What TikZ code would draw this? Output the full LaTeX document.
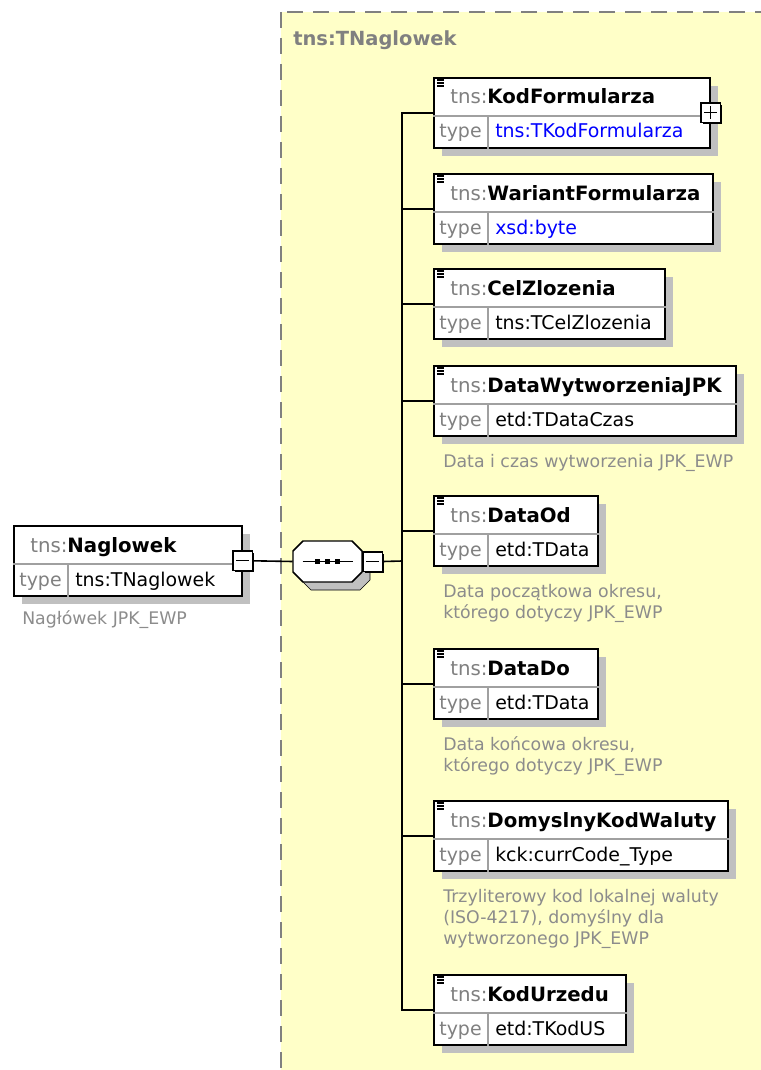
\documentclass[tikz,border=0pt]{standalone}
\usepackage{fontspec}
\setmainfont{DejaVu Sans}
\usepackage{xcolor}
\usetikzlibrary{positioning,calc,shadows}
\definecolor{typeyellow}{RGB}{255, 255, 200}
\definecolor{framegray}{RGB}{128, 128, 128}
\definecolor{prefixgray}{RGB}{128, 128, 128}
\definecolor{notegray}{RGB}{140, 140, 140}
\definecolor{rulegray}{RGB}{160, 160, 160}
\definecolor{linkblue}{RGB}{0, 0, 255}
\definecolor{shadowgray}{RGB}{192, 192, 192}
\tikzset{
    type frame/.style={draw=framegray, fill=typeyellow, line width=1.1pt, dash pattern=on 12pt off 7.5pt},
    frame label/.style={anchor=base west, inner sep=0pt, text=framegray, font=\fontsize{14.6}{17}\selectfont\bfseries},
    elem box/.style={rectangle, draw, line width=1.2pt, fill=white, inner sep=0pt, minimum height=52.5pt, anchor=north west,
        drop shadow={shadow xshift=6pt, shadow yshift=-6pt, fill=shadowgray, opacity=1}},
    elem rule/.style={draw=rulegray, line width=0.8pt},
    elem label/.style={anchor=base west, inner sep=0pt, font=\fontsize{14.8}{17}\selectfont},
    type key/.style={anchor=base, inner sep=0pt, text=prefixgray, font=\fontsize{14.2}{17}\selectfont},
    type value/.style={anchor=base west, inner sep=0pt, font=\fontsize{14.2}{17}\selectfont},
    elem note/.style={anchor=base west, inner sep=0pt, align=left, text=notegray, font=\fontsize{13}{15.75}\selectfont},
    icon line/.style={line width=0.8pt},
    conn/.style={line width=1.2pt},
    toggle/.style={rectangle, draw, fill=white, line width=1pt, minimum size=14.5pt, inner sep=0pt,
        drop shadow={shadow xshift=1.5pt, shadow yshift=-1.5pt, fill=black, opacity=1}},
    minus toggle/.style={toggle, path picture={\draw[line width=1pt] ([xshift=2.5pt]path picture bounding box.west) -- ([xshift=-2.5pt]path picture bounding box.east);}},
    plus toggle/.style={toggle, path picture={\draw[line width=1pt] ([xshift=2.5pt]path picture bounding box.west) -- ([xshift=-2.5pt]path picture bounding box.east);
        \draw[line width=1pt] ([yshift=2.5pt]path picture bounding box.south) -- ([yshift=-2.5pt]path picture bounding box.north);}},
    seq box/.style={rectangle, minimum width=51.75pt, minimum height=30.75pt, inner sep=0pt},
    seq line/.style={draw, fill=white, line width=1.1pt},
    seq shadow/.style={fill=shadowgray}
}
% one element box: name, top left, width (px), label, type, type colour
\newcommand{\xsdelement}[6]{%
  \node[elem box, minimum width=#3*0.75pt] (#1) at #2 {};
  \draw[elem rule] ($(#1.north west)+(0,39)$) -- ($(#1.north east)+(0,39)$);
  \draw[elem rule] ($(#1.north west)+(55,39)$) -- ($(#1.south west)+(55,0)$);
  \node[elem label] (#1-label) at ($(#1.north west)+(17,27)$) {\textcolor{prefixgray}{tns:}\textbf{#4}};
  \node[type key] (#1-key) at ($(#1.north west)+(27.5,61)$) {type};
  \node[type value, text=#6] (#1-type) at ($(#1.north west)+(62,61)$) {#5};
}
% the small list icon of a child element
\newcommand{\elemicon}[1]{%
  \foreach \dy in {3,6,9} \draw[icon line] ($(#1.north west)+(4,\dy)$) -- ++(7,0);
}

\begin{document}
\begin{tikzpicture}[x=0.75pt, y=-0.75pt]
\useasboundingbox (0,0) rectangle (760,1070);

% Complex type frame
\draw[type frame] (281,12) rectangle (790,1100);
\node[frame label] (tnaglowek) at (293,46) {tns:TNaglowek};

% Root element
\xsdelement{naglowek}{(13,525)}{228}{Naglowek}{tns:TNaglowek}{black}
\node[minus toggle] (rootmin) at (naglowek.east) {};
\node[elem note] (naglowek-note) at ($(naglowek.south west)+(9,28)$) {Nagłówek JPK\_EWP};

% Sequence compositor
\node[seq box] (seq) at (327.5,561.5) {};
\foreach \sty/\ox/\oy in {seq shadow/8/8, seq line/0/0}
  \draw[\sty] ($(seq.center)+(\ox,\oy)+(-24.5,-20.5)$) -- ($(seq.center)+(\ox,\oy)+(24.5,-20.5)$)
    -- ($(seq.center)+(\ox,\oy)+(34.5,-10.5)$) -- ($(seq.center)+(\ox,\oy)+(34.5,10.5)$)
    -- ($(seq.center)+(\ox,\oy)+(24.5,20.5)$) -- ($(seq.center)+(\ox,\oy)+(-24.5,20.5)$)
    -- ($(seq.center)+(\ox,\oy)+(-34.5,10.5)$) -- ($(seq.center)+(\ox,\oy)+(-34.5,-10.5)$) -- cycle;
\draw[conn] ($(seq.center)+(-25,0)$) -- ($(seq.center)+(25,0)$);
\foreach \dx in {-10,0,10}
  \fill ($(seq.center)+(\dx-2.5,-2.5)$) rectangle ++(5,5);
\node[minus toggle, right=0pt of seq] (seqmin) {};
\coordinate (trunk) at (402,561);

% Child elements
\xsdelement{kod}{(433,77)}{276}{KodFormularza}{tns:TKodFormularza}{linkblue}
\elemicon{kod}
\node[plus toggle] (kodplus) at (kod.east) {};
\xsdelement{wariant}{(433,173)}{279}{WariantFormularza}{xsd:byte}{linkblue}
\elemicon{wariant}
\xsdelement{cel}{(433,268)}{231}{CelZlozenia}{tns:TCelZlozenia}{black}
\elemicon{cel}
\xsdelement{wytw}{(433,365)}{302}{DataWytworzeniaJPK}{etd:TDataCzas}{black}
\elemicon{wytw}
\node[elem note] (wytw-note) at ($(wytw.south west)+(10,31)$) {Data i czas wytworzenia JPK\_EWP};
\xsdelement{od}{(433,495)}{164}{DataOd}{etd:TData}{black}
\elemicon{od}
\node[elem note] (od-note) at ($(od.south west)+(10,52)$) {Data początkowa okresu,\\którego dotyczy JPK\_EWP};
\xsdelement{do}{(433,648)}{164}{DataDo}{etd:TData}{black}
\elemicon{do}
\node[elem note] (do-note) at ($(do.south west)+(10,52)$) {Data końcowa okresu,\\którego dotyczy JPK\_EWP};
\xsdelement{waluta}{(433,800)}{294}{DomyslnyKodWaluty}{kck:currCode\_Type}{black}
\elemicon{waluta}
\node[elem note] (waluta-note) at ($(waluta.south west)+(10,73)$) {Trzyliterowy kod lokalnej waluty\\(ISO-4217), domyślny dla\\wytworzonego JPK\_EWP};
\xsdelement{urzad}{(433,974)}{192}{KodUrzedu}{etd:TKodUS}{black}
\elemicon{urzad}

% Connectors
\draw[conn] (rootmin.east) -- (seq.west);
\draw[conn] (seqmin.east) -- (trunk);
\foreach \el in {kod,wariant,cel,wytw,od,do,waluta,urzad}
  \draw[conn] (trunk) |- (\el.west);
\end{tikzpicture}
\end{document}
